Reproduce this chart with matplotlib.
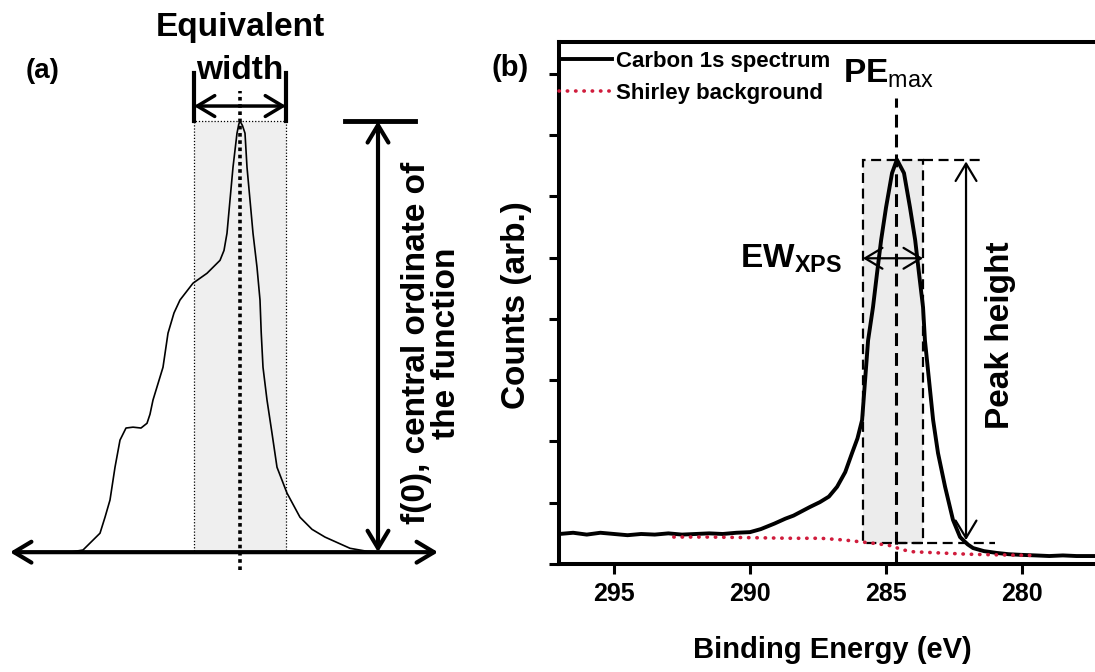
import matplotlib
matplotlib.use("Agg")
import matplotlib.pyplot as plt
from matplotlib import font_manager
from matplotlib.patches import Rectangle
from matplotlib.font_manager import FontProperties

# ---- data ----
# panel (a): schematic function, x in arbitrary units, f normalised to f(0) = 1
curve_x = [-4.25, -3.925, -3.5, -3.375, -3.25, -3.125, -3.0, -2.85, -2.675, -2.475,
           -2.325, -2.25, -2.175, -1.925, -1.8, -1.65, -1.5, -1.175, -0.825, -0.5,
           -0.4, -0.325, -0.25, -0.175, -0.075, -0.03, 0.0, 0.06, 0.125, 0.175,
           0.25, 0.325, 0.425, 0.5, 0.53, 0.575, 0.675, 0.8, 0.925, 1.175,
           1.5, 1.8, 2.125, 2.75, 3.175, 3.625]
curve_f = [0.0, 0.005, 0.044, 0.081, 0.121, 0.197, 0.26, 0.288, 0.29, 0.288,
           0.299, 0.32, 0.353, 0.429, 0.508, 0.555, 0.585, 0.624, 0.647, 0.677,
           0.70, 0.74, 0.817, 0.893, 0.972, 0.993, 1.0, 0.99, 0.972, 0.893,
           0.817, 0.74, 0.661, 0.585, 0.51, 0.429, 0.353, 0.276, 0.197, 0.137,
           0.081, 0.053, 0.035, 0.009, 0.002, 0.0]
ew_a = [-1.15, 1.15]          # equivalent width box edges
f0_x = 3.45                   # position of the f(0) arrow
axis_a = [-5.75, 4.95]        # horizontal axis arrow ends

# panel (b): C 1s spectrum (binding energy in eV, counts arb.)
be = [297.0, 296.5, 296.0, 295.5, 295.0, 294.5, 294.0, 293.5, 293.0, 292.5,
      292.0, 291.5, 291.0, 290.5, 290.0, 289.6, 289.1, 288.7, 288.4, 288.1,
      287.8, 287.43, 287.1, 286.8, 286.5, 286.25, 286.05, 285.88, 285.66, 285.48,
      285.33, 285.18, 285.0, 284.78, 284.6, 284.34, 284.12, 283.93, 283.79, 283.64,
      283.57, 283.42, 283.27, 283.09, 282.83, 282.54, 282.28, 282.0, 281.8, 281.4,
      280.92, 280.5, 280.07, 279.5, 279.0, 278.5, 278.0, 277.3]
counts = [0.49, 0.51, 0.48, 0.51, 0.49, 0.47, 0.49, 0.48, 0.5, 0.48,
          0.49, 0.5, 0.49, 0.51, 0.52, 0.57, 0.66, 0.74, 0.79, 0.86,
          0.93, 1.01, 1.1, 1.26, 1.5, 1.81, 2.05, 2.35, 3.65, 4.19,
          4.75, 5.29, 5.82, 6.38, 6.6, 6.38, 5.82, 5.29, 4.75, 4.19,
          3.65, 3.0, 2.35, 1.81, 1.26, 0.72, 0.44, 0.32, 0.26, 0.21,
          0.18, 0.16, 0.15, 0.14, 0.13, 0.14, 0.13, 0.13]
shirley_be = [292.8, 291.5, 290.0, 288.5, 287.4, 286.5, 285.9, 285.3, 284.7, 284.5,
              284.0, 283.0, 282.0, 281.0, 279.6]
shirley = [0.44, 0.44, 0.43, 0.42, 0.42, 0.39, 0.36, 0.33, 0.29, 0.24,
           0.20, 0.18, 0.16, 0.15, 0.14]
pe_max = 284.63
ew_b = [285.85, 283.64]
peak_top = 6.6
peak_base = 0.34
x_ticks = [295, 290, 285, 280]
y_ticks = [0, 1, 2, 3, 4, 5, 6, 7, 8]

# ---- fonts ----
names = {f.name for f in font_manager.fontManager.ttflist}
narrow = next((n for n in ["Liberation Sans Narrow", "Arial Narrow", "DejaVu Sans Condensed"]
               if n in names), None)
plt.rcParams["font.family"] = ["Liberation Sans", "DejaVu Sans"]
plt.rcParams["mathtext.fontset"] = "custom"
plt.rcParams["mathtext.rm"] = "Liberation Sans"
plt.rcParams["mathtext.bf"] = "Liberation Sans:bold"

# the reference uses a condensed face; without one, shrink the normal bold face
if narrow:
    narrow_bold = dict(family=narrow, weight="bold")
    sz_legend, sz_tick, sz_xlabel, sz_b = 19, 20, 24, 22
else:
    narrow_bold = dict(family="Liberation Sans", weight="bold")
    sz_legend, sz_tick, sz_xlabel, sz_b = 16, 18, 21, 21

W, H = 1095, 672
fig = plt.figure(figsize=(W / 100, H / 100), dpi=100)

# ================= panel (a) =================
ax_a = fig.add_axes([0, 0, 460 / W, 1])
ax_a.set_xlim(-6, 5.5)
ax_a.set_ylim(-0.278, 1.281)
ax_a.axis("off")

arrow_kw = dict(arrowstyle="<->,head_length=0.5,head_width=0.3", color="black",
                shrinkA=0, shrinkB=0, mutation_scale=25)

ax_a.add_patch(Rectangle((ew_a[0], 0), ew_a[1] - ew_a[0], 1.0, facecolor="#efefef",
                         edgecolor="black", lw=0.9, ls=(0, (1, 1.5)), zorder=1))
ax_a.plot(curve_x, curve_f, color="black", lw=1.2, zorder=3)
ax_a.plot([0, 0], [-0.042, 1.07], color="black", lw=2.6, ls=(0, (1, 1)), zorder=2)
ax_a.annotate("", xy=(axis_a[0], 0), xytext=(axis_a[1], 0),
              arrowprops=dict(lw=3, **arrow_kw), zorder=4)

# equivalent width bracket
for xe in ew_a:
    ax_a.plot([xe, xe], [1.0, 1.111], color="black", lw=3)
ax_a.annotate("", xy=(ew_a[0], 1.035), xytext=(ew_a[1], 1.035),
              arrowprops=dict(lw=2.5, **arrow_kw))
ax_a.text(0, 1.218, "Equivalent", ha="center", va="center", fontsize=24, fontweight="bold")
ax_a.text(0, 1.118, "width", ha="center", va="center", fontsize=24, fontweight="bold")

# f(0) arrow
ax_a.plot([f0_x - 0.825, f0_x + 0.925], [1.0, 1.0], color="black", lw=3.5)
ax_a.annotate("", xy=(f0_x, 1.0), xytext=(f0_x, 0),
              arrowprops=dict(lw=3, **arrow_kw))
ax_a.text(4.78, 0.485, "f(0), central ordinate of\nthe function", rotation=90,
          ha="center", va="center", fontsize=24, fontweight="bold", linespacing=0.95)
ax_a.text(-4.925, 1.116, "(a)", ha="center", va="center", fontsize=20, fontweight="bold")

# ================= panel (b) =================
ax = fig.add_axes([559 / W, 1 - 564 / H, 536 / W, 522 / H])
ax.set_xlim(297.02, 277.32)
ax.set_ylim(0, 8.52)

dash = (0, (4.5, 2.5))
ax.add_patch(Rectangle((ew_b[1], peak_base), ew_b[0] - ew_b[1], peak_top - peak_base,
                       facecolor="#ececec", edgecolor="black", lw=1.6, ls=dash, zorder=1))
ax.plot([ew_b[1], 281.47], [peak_top, peak_top], color="black", lw=1.6, ls=dash, zorder=1)
ax.plot([pe_max, 281.0], [peak_base, peak_base], color="black", lw=1.6, ls=dash, zorder=1)
ax.plot([pe_max, pe_max], [0, 7.6], color="black", lw=2.2, ls=(0, (4.2, 2.3)), zorder=2)

ax.plot(be, counts, color="black", lw=2.8, label="Carbon 1s spectrum", zorder=3)
ax.plot(shirley_be, shirley, color="#d01c3c", lw=2.6, ls=(0, (0.1, 2.2)),
        dash_capstyle="round", label="Shirley background", zorder=4)

ax.annotate("", xy=(ew_b[0], 4.99), xytext=(ew_b[1], 4.99),
            arrowprops=dict(lw=1.6, **arrow_kw), zorder=5)
ax.annotate("", xy=(282.06, 6.57), xytext=(282.06, 0.39),
            arrowprops=dict(lw=1.6, **arrow_kw), zorder=5)

ax.text(286.58, 7.86, r"$\mathbf{PE}_{\mathrm{max}}$", ha="left", va="baseline", fontsize=24)
ax.text(286.62, 4.84, r"$\mathbf{EW_{XPS}}$", ha="right", va="baseline", fontsize=24)
ax.text(280.81, 3.74, "Peak height", rotation=90, ha="center", va="center",
        fontsize=24, fontweight="bold")

for side in ["top", "left", "bottom"]:
    ax.spines[side].set_linewidth(2.9)
ax.spines["right"].set_visible(False)
ax.set_xticks(x_ticks)
ax.set_xticklabels([str(t) for t in x_ticks],
                   fontproperties=FontProperties(size=sz_tick, **narrow_bold))
ax.set_yticks(y_ticks)
ax.tick_params(axis="both", direction="out", length=7, width=2.2, pad=6)
ax.tick_params(axis="y", labelleft=False)

leg_px = sz_legend * 100 / 72
ax.legend(loc="upper left", bbox_to_anchor=(0, 0.983), frameon=False, borderpad=0,
          borderaxespad=0, handlelength=53 / leg_px, handletextpad=4 / leg_px,
          labelspacing=(33 - leg_px) / leg_px,
          prop=FontProperties(size=sz_legend, **narrow_bold))

fig.text(517 / W, 1 - 305 / H, "Counts (arb.)", rotation=90, ha="center", va="center",
         fontsize=24, fontweight="bold")
fig.text(832 / W, 1 - 650 / H, "Binding Energy (eV)", ha="center", va="center",
         fontsize=sz_xlabel, **narrow_bold)
fig.text(510 / W, 1 - 68 / H, "(b)", ha="center", va="center", fontsize=sz_b, **narrow_bold)

fig.savefig("out.png", dpi=100)
